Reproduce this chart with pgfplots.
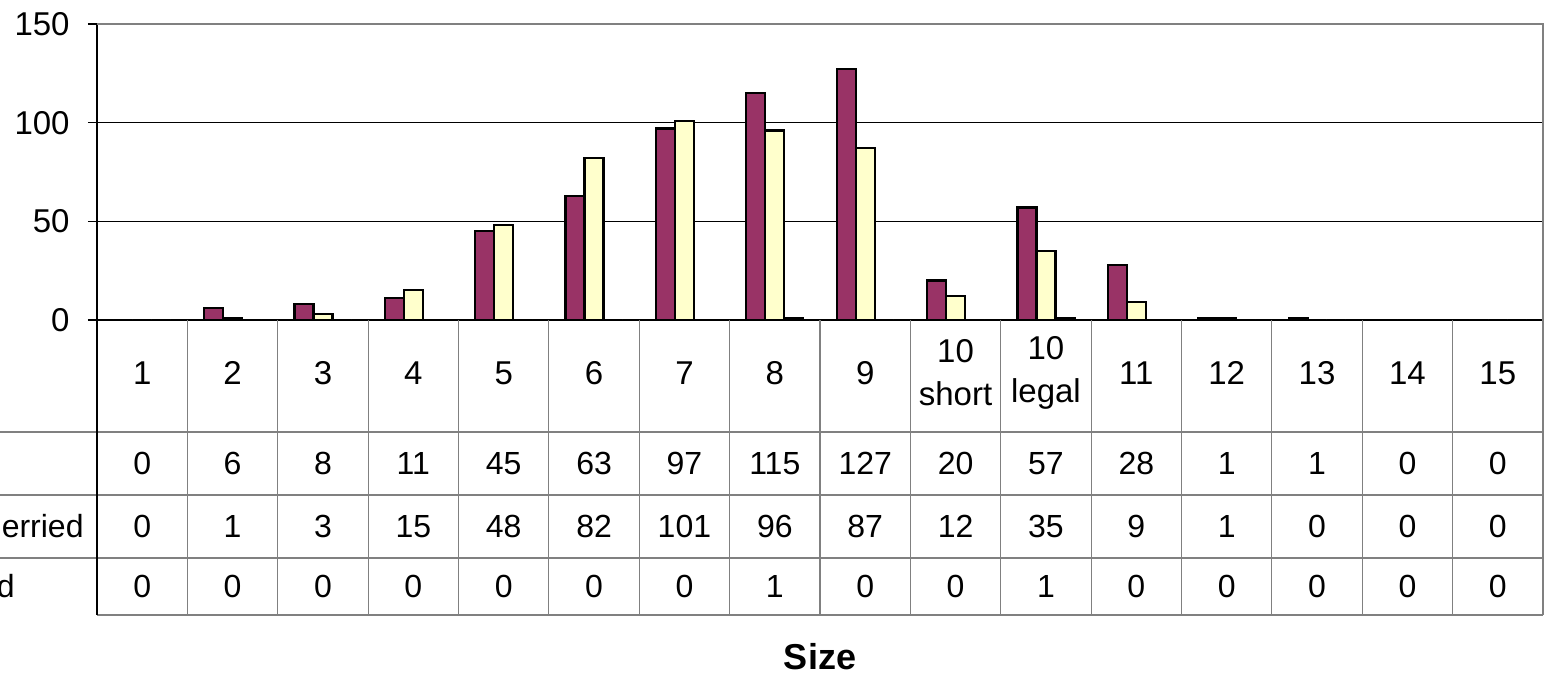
\documentclass[border=0pt]{standalone}
\usepackage{fontspec}
\setmainfont{Liberation Sans}
\usepackage{pgfplots}
\usepackage{pgfplotstable}
\pgfplotsset{compat=1.18}

\definecolor{plum}{RGB}{153,51,102}
\definecolor{cream}{RGB}{255,255,204}
\definecolor{paleaqua}{RGB}{204,255,255}
\definecolor{rulegray}{RGB}{128,128,128}

% counts per size, three series
\pgfplotstableread{
x a b c
0 0 0 0
1 6 1 0
2 8 3 0
3 11 15 0
4 45 48 0
5 63 82 0
6 97 101 0
7 115 96 1
8 127 87 0
9 20 12 0
10 57 35 1
11 28 9 0
12 1 1 0
13 1 0 0
14 0 0 0
15 0 0 0
}\sizedata

\begin{document}
\begin{tikzpicture}[font=\fontsize{16}{21.5}\selectfont]
    \begin{axis}[
            at={(48.5pt,177.5pt)}, anchor=south west,
            scale only axis,
            width=723pt, height=148pt,
            xmin=-0.5, xmax=15.5,
            ymin=0, ymax=150,
            axis x line*=bottom, axis y line*=left,
            axis line style={black, line width=0.8pt},
            ytick={0,50,100,150},
            ymajorgrids,
            grid style={black, line width=0.5pt},
            xtick={0,...,15},
            xticklabels={1,2,3,4,5,6,7,8,9,{10\\short},{10\\legal},11,12,13,14,15},
            xticklabel style={align=center, anchor=center, yshift=-22pt},
            major x tick style={draw=none},
            ytick style={black, line width=0.6pt},
            tick align=outside,
            major tick length=4.5pt,
            yticklabel style={anchor=east, inner sep=0pt, xshift=-9pt},
            ticklabel style={font=\fontsize{16.5}{21.5}\selectfont},
            /pgf/number format/assume math mode=true,
            clip=false,
            ybar, bar width=0.21,
        ]
        \addplot [draw=black, line width=1.1pt, fill=plum, bar shift=-0.21]
        table [x=x, y=a] {\sizedata};
        \addplot [draw=black, line width=1.1pt, fill=cream, bar shift=0]
        table [x=x, y=b] {\sizedata};
        \addplot [draw=black, line width=1.1pt, fill=paleaqua, bar shift=0.21]
        table [x=x, y=c] {\sizedata};
    \end{axis}

    % plot area frame, top and right
    \draw [rulegray, line width=0.8pt] (48.5pt,325.5pt) -- (771.5pt,325.5pt) -- (771.5pt,30pt);

    % data table grid
    \foreach \yy in {121.5,90,58.5} {
        \draw [rulegray, line width=0.6pt] (0pt,\yy pt) -- (771.5pt,\yy pt);
    }
    \draw [rulegray, line width=0.6pt] (48.5pt,30pt) -- (771.5pt,30pt);
    \foreach \k in {1,...,15} {
        \draw [rulegray, line width=0.6pt] ({48.5pt+\k*45.1875pt},177.5pt) -- ({48.5pt+\k*45.1875pt},30pt);
    }
    \draw [black, line width=0.8pt] (48.5pt,177.5pt) -- (48.5pt,30pt);

    % data table values
    \foreach \k in {0,...,15} {
        \pgfplotstablegetelem{\k}{a}\of\sizedata \let\va\pgfplotsretval
        \pgfplotstablegetelem{\k}{b}\of\sizedata \let\vb\pgfplotsretval
        \pgfplotstablegetelem{\k}{c}\of\sizedata \let\vc\pgfplotsretval
        \node at ({48.5pt+(\k+0.5)*45.1875pt},105.75pt) {\va};
        \node at ({48.5pt+(\k+0.5)*45.1875pt},74.25pt) {\vb};
        \node at ({48.5pt+(\k+0.5)*45.1875pt},44.25pt) {\vc};
    }

    % row labels (cut by the page edge, as in the source)
    \node [anchor=east, inner sep=0pt] at (42pt,74.25pt) {Berried};
    \node [anchor=east, inner sep=0pt] at (7.5pt,44.25pt) {Soiled};

    \node [font=\fontsize{18}{22}\selectfont\bfseries] at (410pt,9pt) {Size};

    \pgfresetboundingbox
    \path (0pt,0pt) rectangle (774pt,337.5pt);
\end{tikzpicture}
\end{document}
